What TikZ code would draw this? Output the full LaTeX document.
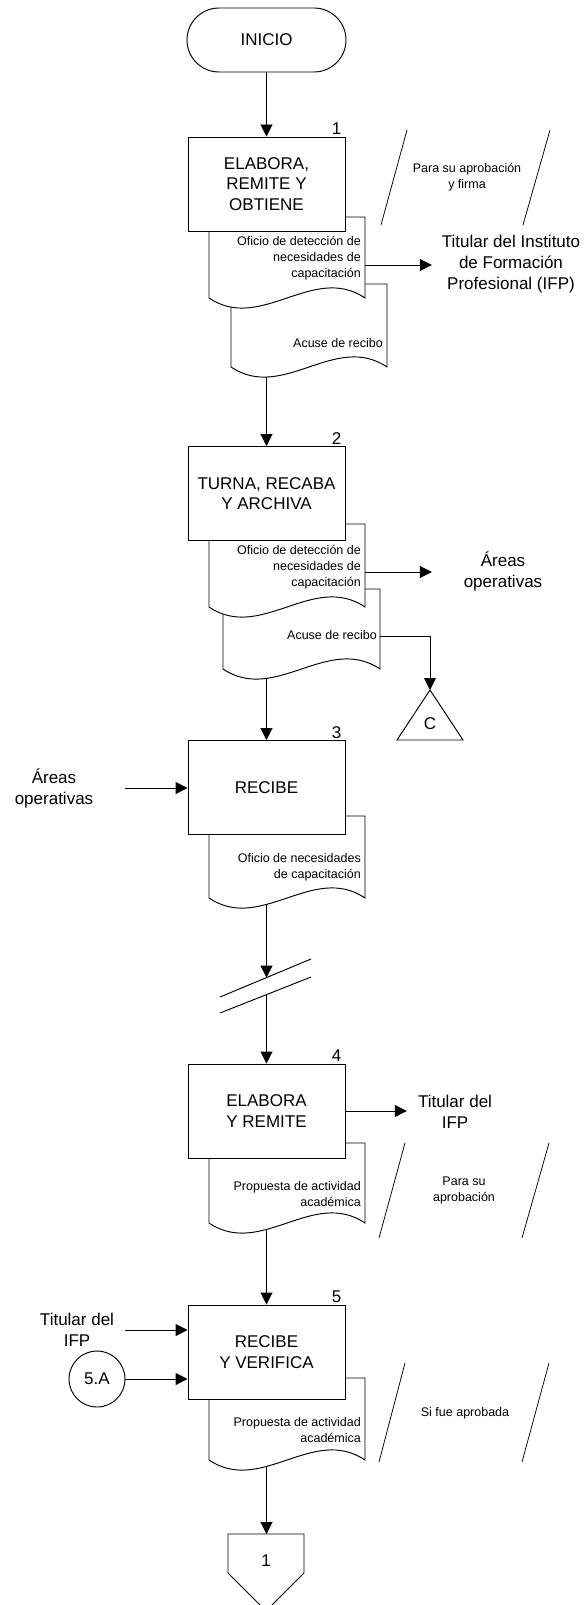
\documentclass[tikz,border=0pt]{standalone}
\usepackage{fontspec}
\setmainfont{Liberation Sans}
\usetikzlibrary{arrows.meta}
\newcommand{\bigtxt}{\fontsize{17}{20.7}\selectfont}
\newcommand{\smtxt}{\fontsize{12.5}{16}\selectfont}
\newcommand{\docshape}[4]{%
  \draw[shp] (#1,#3) -- (#2,#3) -- (#2,#4)
    .. controls ({#2-0.333*(#2-#1)},{#4-35}) and ({#1+0.333*(#2-#1)},{#4+35}) .. (#1,#4) -- cycle;}
\tikzset{
  shp/.style={draw=black, fill=white, line width=0.95pt},
  box/.style={shp, rectangle, minimum width=157pt, minimum height=94pt, align=center, font=\bigtxt, inner sep=0pt},
  term/.style={shp, rectangle, rounded corners=32pt, minimum width=159pt, minimum height=64pt, font=\bigtxt, inner sep=0pt},
  circ/.style={shp, circle, minimum size=56pt, font=\bigtxt, inner sep=0pt},
  num/.style={font=\bigtxt, inner sep=0pt},
  dtxt/.style={font=\smtxt, align=right, inner sep=0pt},
  ntxt/.style={font=\smtxt, align=center, inner sep=0pt},
  lbl/.style={font=\fontsize{17}{21}\selectfont, align=center, inner sep=0pt},
  arr/.style={line width=0.95pt, -{Triangle[length=12pt,width=12pt]}},
  ln/.style={line width=0.95pt},
  slash/.style={line width=0.75pt},
}
\begin{document}
\begin{tikzpicture}[x=1pt,y=-1pt]
\path[use as bounding box] (0,0) rectangle (584,1605);
\clip (0,0) rectangle (584,1605);

% documents (back to front)
\docshape{231}{387}{284}{367}
\docshape{209}{365}{217}{298}
\docshape{223}{380}{589}{669}
\docshape{209}{365}{524}{607}
\docshape{209}{365}{816}{898}
\docshape{209}{365}{1143}{1223}
\docshape{209}{365}{1378}{1460}

% terminal and process boxes
\node[term] (ini) at (266.5,40) {INICIO};
\node[box] (b1) at (266.5,184) {ELABORA,\\REMITE Y\\OBTIENE};
\node[box] (b2) at (266.5,493.5) {TURNA, RECABA\\Y ARCHIVA};
\node[box] (b3) at (266.5,787.5) {RECIBE};
\node[box] (b4) at (266.5,1111) {ELABORA\\Y REMITE};
\node[box] (b5) at (266.5,1352) {RECIBE\\Y VERIFICA};

% step numbers
\node[num, anchor=base east] (n1) at ([xshift=-4pt,yshift=2pt]b1.north east) {1};
\node[num, anchor=base east] (n2) at ([xshift=-4pt,yshift=2pt]b2.north east) {2};
\node[num, anchor=base east] (n3) at ([xshift=-4pt,yshift=2pt]b3.north east) {3};
\node[num, anchor=base east] (n4) at ([xshift=-4pt,yshift=2pt]b4.north east) {4};
\node[num, anchor=base east] (n5) at ([xshift=-4pt,yshift=2pt]b5.north east) {5};

% document texts
\node[dtxt, anchor=east] (t1a) at (361,258) {Oficio de detección de\\necesidades de\\capacitación};
\node[dtxt, anchor=east] (t1b) at (383,343) {Acuse de recibo};
\node[dtxt, anchor=east] (t2a) at (361,567) {Oficio de detección de\\necesidades de\\capacitación};
\node[dtxt, anchor=east] (t2b) at (377,635) {Acuse de recibo};
\node[dtxt, anchor=east] (t3) at (361,867) {Oficio de necesidades\\de capacitación};
\node[dtxt, anchor=east] (t4) at (361,1194) {Propuesta de actividad\\académica};
\node[dtxt, anchor=east] (t5) at (361,1430) {Propuesta de actividad\\académica};

% annotations with slashes
\draw[slash] (407,130) -- (381,225);
\draw[slash] (550,130) -- (523,225);
\node[ntxt] (a1) at (467,177.5) {Para su aprobación\\y firma};
\draw[slash] (405,1143) -- (379,1238);
\draw[slash] (549,1143) -- (522,1238);
\node[ntxt] (a4) at (464,1190) {Para su\\aprobación};
\draw[slash] (405,1363) -- (379,1462);
\draw[slash] (549,1363) -- (522,1462);
\node[ntxt] (a5) at (465,1413) {Si fue aprobada};

% external labels
\node[lbl, minimum width=158pt] (tit1) at (511,264) {Titular del Instituto\\de Formación\\Profesional (IFP)};
\node[lbl, minimum width=142pt] (ar1) at (503,571) {Áreas\\operativas};
\node[lbl, minimum width=142pt] (ar2) at (54,788) {Áreas\\operativas};
\node[lbl, minimum width=96pt] (tit2) at (455,1112) {Titular del\\IFP};
\node[lbl, minimum width=96pt] (tit3) at (77,1330) {Titular del\\IFP};
\node[circ] (c5a) at (97,1379) {5.A};

% connector C
\draw[shp] (430,690) -- (463,740) -- (397,740) -- cycle;
\coordinate (capex) at (430,690);
\node[num] (tc) at (430,724) {C};

% off-page connector
\draw[shp] (228,1534) -- (304,1534) -- (304,1573) -- (266,1611) -- (228,1573) -- cycle;
\coordinate (off1top) at (266.5,1534);
\node[num] (o1) at (266,1561) {1};

% connection points
\coordinate (d1a-e) at (365,265);
\coordinate (d2a-e) at (365,572);
\coordinate (d2b-e) at (380,636);
\coordinate (d1b-s) at (266.5,377);
\coordinate (d2b-s) at (266.5,678.4);
\coordinate (d3-s) at (266.5,904.4);
\coordinate (brk1) at (266.5,977.6);
\coordinate (brk2) at (266.5,993.6);
\coordinate (d4-s) at (266.5,1229.4);
\coordinate (d5-s) at (266.5,1466.4);

% break symbol
\draw[ln] (220,997) -- (311,959);
\draw[ln] (220,1013) -- (311,977);

% connectors
\draw[arr] (ini) -- (b1);
\draw[arr] (d1a-e) -- (d1a-e -| tit1.west);
\draw[arr] (d1b-s) -- (b2.north);
\draw[arr] (d2a-e) -- (d2a-e -| ar1.west);
\draw[arr] (d2b-e) -| (capex);
\draw[arr] (d2b-s) -- (b3.north);
\draw[arr] (ar2.east) -- (ar2.east -| b3.west);
\draw[arr] (d3-s) -- (brk1);
\draw[arr] (brk2) -- (b4.north);
\draw[arr] (b4.east) -- (b4.east -| tit2.west);
\draw[arr] (d4-s) -- (b5.north);
\draw[arr] (tit3.east) -- (tit3.east -| b5.west);
\draw[arr] (c5a.east) -- (c5a.east -| b5.west);
\draw[arr] (d5-s) -- (off1top);
\end{tikzpicture}
\end{document}
